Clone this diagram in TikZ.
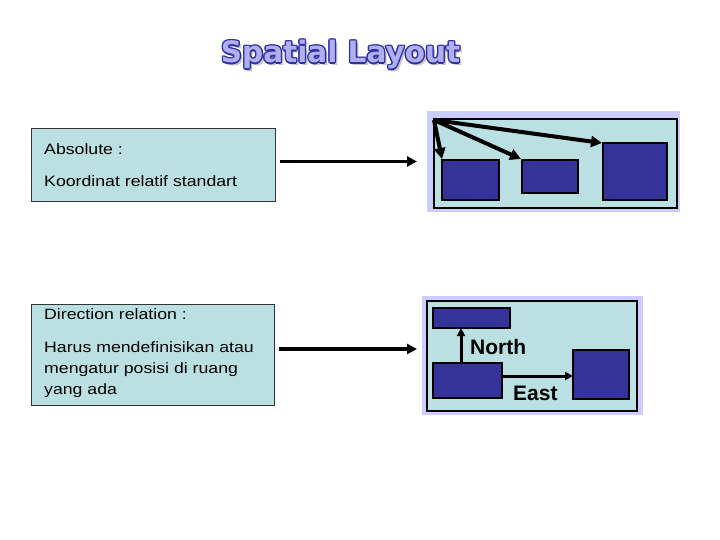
\documentclass[tikz,border=0pt]{standalone}
\usepackage{fontspec}
\setmainfont{Liberation Sans}
\newfontfamily\boxfont[FakeStretch=1.18]{Liberation Sans}
\newfontfamily\titlefont{DejaVu Sans}
\usetikzlibrary{arrows.meta,calc,positioning}
\definecolor{paneCyan}{HTML}{BBE0E3}
\definecolor{paneLav}{HTML}{CCCCFF}
\definecolor{boxBlue}{HTML}{333399}
\definecolor{titleFill}{HTML}{B0B0F0}
\definecolor{titleLine}{HTML}{3030A0}
\tikzset{
	txtbox/.style={draw=black!80, fill=paneCyan, line width=0.8pt, inner sep=0, outer sep=0},
	txt/.style={font=\boxfont\fontsize{15}{18}\selectfont, anchor=base west, inner sep=0},
	pane/.style={fill=paneLav, inner sep=0, outer sep=0},
	frame/.style={draw=black, fill=paneCyan, line width=1.2pt, inner sep=0, outer sep=0},
	blk/.style={draw=black, fill=boxBlue, line width=1.2pt, inner sep=0, outer sep=0},
	bigarrow/.style={line width=3.5pt, -{Triangle[length=10pt,width=10pt]}},
	ptrarrow/.style={line width=4pt, -{Triangle[length=11pt,width=11pt]}},
	relarrow/.style={line width=3pt, -{Triangle[length=8pt,width=8pt]}},
	rellab/.style={font=\bfseries\fontsize{21}{24}\selectfont, anchor=base west, inner sep=0},
	titletxt/.style={font=\titlefont\bfseries\fontsize{29.5}{34}\selectfont, anchor=base, inner sep=0}
}
\begin{document}
\begin{tikzpicture}[x=1pt,y=-1pt]
	\useasboundingbox (0,0) rectangle (720,540);
	% title
	\node[titletxt, text=black!22] (titleShadow) at (343,66) {Spatial Layout};
	\foreach \dx/\dy [count=\i] in {-1.4/0,1.4/0,0/-1.4,0/1.4,-1/-1,1/-1,-1/1,1/1}
		\node[titletxt, text=titleLine] (titleLine\i) at (340.5+\dx,63+\dy) {Spatial Layout};
	\node[titletxt, text=titleFill] (title) at (340.5,63) {Spatial Layout};
	
	% left text boxes
	\node[txtbox, minimum width=244pt, minimum height=73pt] (absBox) at (153,164.5) {};
	\node[txt] (absHead) at (44,155) {Absolute :};
	\node[txt] (absBody) at (44,187) {Koordinat relatif standart};
	
	\node[txtbox, minimum width=243pt, minimum height=101pt] (dirBox) at (152.5,354.5) {};
	\node[txt] (dirHead) at (44,319) {Direction relation :};
	\node[txt] (dirBody1) at (44,352) {Harus mendefinisikan atau};
	\node[txt] (dirBody2) at (44,373) {mengatur posisi di ruang};
	\node[txt] (dirBody3) at (44,394) {yang ada};
	
	% absolute panel
	\node[pane, minimum width=253pt, minimum height=101pt] (absPanel) at (553.5,161.5) {};
	\node[frame, minimum width=243pt, minimum height=89pt] (absFrame) at (555.5,163.5) {};
	\node[blk, minimum width=57pt, minimum height=40pt] (boxA) at (470.5,180) {};
	\node[blk, minimum width=56pt, minimum height=33pt] (boxB) at (550,176.5) {};
	\node[blk, minimum width=64pt, minimum height=57pt] (boxC) at (635,171.5) {};
	\coordinate (origin) at ($(absFrame.north west)+(0,1)$);
	\draw[ptrarrow] (origin) -- ($(boxA.north west)+(0,-1)$);
	\draw[ptrarrow] (origin) -- ($(boxB.north west)+(-1,-1)$);
	\draw[ptrarrow] (origin) -- ($(boxC.north west)+(-1,0)$);
	
	% direction panel
	\node[pane, minimum width=221pt, minimum height=119pt] (dirPanel) at (532.5,355.5) {};
	\node[frame, minimum width=210pt, minimum height=110pt] (dirFrame) at (532,356) {};
	\node[blk, minimum width=77pt, minimum height=20pt] (boxN) at (471.5,318) {};
	\node[blk, minimum width=69pt, minimum height=35pt] (boxO) at (467.5,380.5) {};
	\node[blk, minimum width=56pt, minimum height=49pt] (boxE) at (601,374.5) {};
	\draw[relarrow] ($(boxO.north west)+(28,0)$) coordinate (nFoot) -- (nFoot |- boxN.south);
	\draw[relarrow] ($(boxO.east)+(0,-4.5)$) coordinate (eFoot) -- (eFoot -| boxE.west);
	\node[rellab] (northLab) at (470,354) {North};
	\node[rellab] (eastLab) at (513,400) {East};
	
	% connectors
	\draw[bigarrow, shorten <=5pt, shorten >=10pt] (absBox.east |- absPanel.west) -- (absPanel.west);
	\draw[bigarrow, shorten <=5pt, shorten >=5pt] ($(dirBox.east |- dirPanel.west)+(0,-6.5)$) -- ($(dirPanel.west)+(0,-6.5)$);
\end{tikzpicture}
\end{document}
